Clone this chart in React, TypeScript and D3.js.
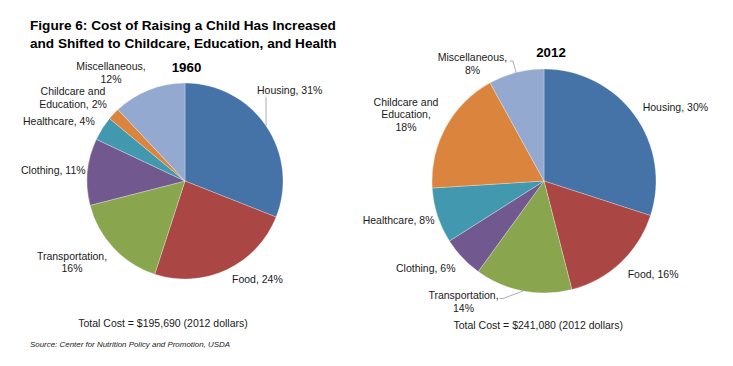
import React from 'react';
import * as d3 from 'd3';

// categories in the order they are drawn (clockwise from 12 o'clock)
const categories = [
  'Housing',
  'Food',
  'Transportation',
  'Clothing',
  'Healthcare',
  'Childcare and Education',
  'Miscellaneous',
];
const share1960 = [31, 24, 16, 11, 4, 2, 12];
const share2012 = [30, 16, 14, 6, 8, 18, 8];
const colors = ['#4572A7', '#AA4643', '#89A54E', '#71588F', '#4198AF', '#DB843D', '#93A9CF'];

const titleLines = [
  'Figure 6: Cost of Raising a Child Has Increased',
  'and Shifted to Childcare, Education, and Health',
];
const totals = ['Total Cost = $195,690 (2012 dollars)', 'Total Cost = $241,080 (2012 dollars)'];
const years = ['1960', '2012'];
const source = 'Source: Center for  Nutrition Policy and Promotion, USDA';

const FONT = "Arial, 'Liberation Sans', sans-serif";
const LH = 12.3;
const LABEL_SIZE = 10.5;

type LabelPos = {
  x: number;
  y: number;
  anchor: 'start' | 'middle';
  breaks?: number[];
  leader?: [number, number][];
};

// label layout (Excel "best fit" positions), one entry per category
const layout1960: LabelPos[] = [
  { x: 257, y: 90, anchor: 'start', leader: [[266, 97]] },
  { x: 232, y: 279.3, anchor: 'start' },
  { x: 72, y: 256.5, anchor: 'middle', breaks: [1] },
  { x: 21, y: 170, anchor: 'start' },
  { x: 23, y: 121.5, anchor: 'start' },
  { x: 73, y: 91.7, anchor: 'middle', breaks: [2] },
  { x: 111, y: 66.7, anchor: 'middle', breaks: [1] },
];
const layout2012: LabelPos[] = [
  { x: 642.7, y: 107.7, anchor: 'start' },
  { x: 627.7, y: 274, anchor: 'start' },
  { x: 463.5, y: 295.7, anchor: 'middle', breaks: [1], leader: [[499.5, 298.5], [503, 298.5]] },
  { x: 396, y: 268.3, anchor: 'start' },
  { x: 362.7, y: 220, anchor: 'start' },
  { x: 406, y: 102.3, anchor: 'middle', breaks: [2, 3] },
  { x: 472.5, y: 57.7, anchor: 'middle', breaks: [1], leader: [[509.5, 61], [513, 61]] },
];

const splitLines = (text: string, breaks?: number[]) => {
  if (!breaks) return [text];
  const words = text.split(' ');
  const out: string[] = [];
  let prev = 0;
  [...breaks, words.length].forEach(b => {
    out.push(words.slice(prev, b).join(' '));
    prev = b;
  });
  return out;
};

const Pie = ({
  values,
  cx,
  cy,
  r,
  layout,
}: {
  values: number[];
  cx: number;
  cy: number;
  r: number;
  layout: LabelPos[];
}) => {
  const pie = d3.pie<number>().sort(null).startAngle(0).endAngle(2 * Math.PI);
  const arcs = pie(values);
  const arc = d3.arc<d3.PieArcDatum<number>>().innerRadius(0).outerRadius(r);
  const line = d3.line();

  return (
    <g>
      <g transform={`translate(${cx},${cy})`}>
        {arcs.map((a, i) => (
          <path key={i} d={arc(a) as string} fill={colors[i]} stroke="#ffffff" strokeWidth={0.4} strokeOpacity={0.7} />
        ))}
      </g>
      {arcs.map((a, i) => {
        const pos = layout[i];
        const lines = splitLines(`${categories[i]}, ${values[i]}%`, pos.breaks);
        let leader = null;
        if (pos.leader) {
          const mid = (a.startAngle + a.endAngle) / 2;
          const end: [number, number] = [cx + r * Math.sin(mid), cy - r * Math.cos(mid)];
          leader = (
            <path d={line([...pos.leader, end]) as string} fill="none" stroke="#9a9a9a" strokeWidth={0.8} />
          );
        }
        return (
          <g key={i}>
            {leader}
            <text
              x={pos.x}
              y={pos.y}
              textAnchor={pos.anchor}
              fontFamily={FONT}
              fontSize={LABEL_SIZE}
              fill="#1a1a1a"
            >
              {lines.map((l, j) => (
                <tspan key={j} x={pos.x} y={pos.y + j * LH} dy="0.35em">
                  {l}
                </tspan>
              ))}
            </text>
          </g>
        );
      })}
    </g>
  );
};

export default function App() {
  const width = 733;
  const height = 366;

  return (
    <div style={{ position: 'absolute', left: 0, top: 0 }}>
      <svg width={width} height={height} style={{ display: 'block', background: '#fff' }}>
        {titleLines.map((t, i) => (
          <text key={i} x={30} y={25.5 + i * 17.5} dy="0.35em" fontFamily={FONT} fontWeight="bold" fontSize={13.6} fill="#000">
            {t}
          </text>
        ))}

        <Pie values={share1960} cx={185} cy={181} r={98} layout={layout1960} />
        <Pie values={share2012} cx={544} cy={181} r={112} layout={layout2012} />

        <text x={186.5} y={67} dy="0.35em" textAnchor="middle" fontFamily={FONT} fontWeight="bold" fontSize={13.3} fill="#000">
          {years[0]}
        </text>
        <text x={551} y={52.3} dy="0.35em" textAnchor="middle" fontFamily={FONT} fontWeight="bold" fontSize={13.3} fill="#000">
          {years[1]}
        </text>

        <text x={163} y={323.7} dy="0.35em" textAnchor="middle" fontFamily={FONT} fontSize={LABEL_SIZE} fill="#1a1a1a">
          {totals[0]}
        </text>
        <text x={538.3} y={325.7} dy="0.35em" textAnchor="middle" fontFamily={FONT} fontSize={LABEL_SIZE} fill="#1a1a1a">
          {totals[1]}
        </text>

        <text x={30} y={344} dy="0.35em" fontFamily={FONT} fontStyle="italic" fontSize={7.5} fill="#1a1a1a" textLength={200} lengthAdjust="spacingAndGlyphs">
          {source}
        </text>
      </svg>
    </div>
  );
}
